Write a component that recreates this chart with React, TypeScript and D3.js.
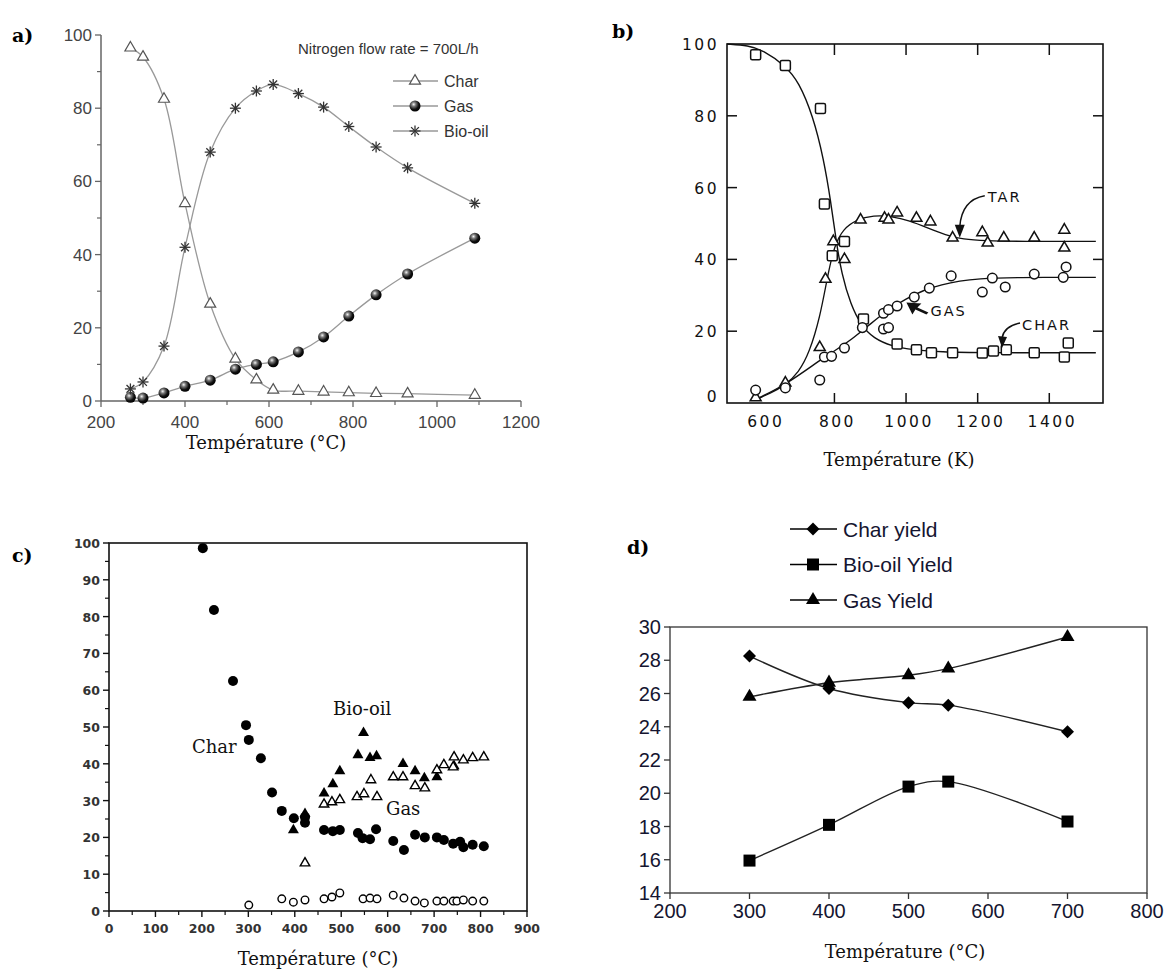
import React from "react";
import * as d3 from "d3";

// ---------------- Panel a ----------------
const aTemps = [270, 300, 350, 400, 460, 520, 570, 610, 670, 730, 790, 855, 930, 1090];
const aChar = [96.5, 94, 82.5, 54, 26.5, 11.5, 5.8, 3, 2.7, 2.5, 2.3, 2.1, 2, 1.6];
const aGas = [1, 0.8, 2.2, 4, 5.7, 8.7, 10, 10.7, 13.4, 17.5, 23.2, 29, 34.7, 44.5];
const aBioOil = [3.3, 5.2, 15, 42, 68, 80, 84.7, 86.5, 84, 80.3, 75, 69.4, 63.7, 54];
const aXTicks = [200, 400, 600, 800, 1000, 1200];
const aXMinor = [300, 500, 700, 900, 1100];
const aYTicks = [0, 20, 40, 60, 80, 100];
const aYMinor = [10, 30, 50, 70, 90];
const aLegend = ["Char", "Gas", "Bio-oil"];

// ---------------- Panel b ----------------
const bCharK = [580, 663, 761, 772, 794, 828, 881, 975, 1029, 1071, 1130, 1213, 1244, 1280, 1358, 1442, 1453];
const bCharY = [97, 94, 82, 55.4, 41, 45, 23.4, 16.4, 14.8, 14, 14, 13.9, 14.5, 14.8, 14, 12.8, 16.7];
const bTarK = [580, 663, 759, 775, 797, 828, 873, 940, 951, 975, 1029, 1068, 1130, 1213, 1228, 1273, 1358, 1442, 1442];
const bTarY = [1.5, 5.6, 15.5, 34.5, 45, 40, 51, 51.5, 51, 53, 51.5, 50.5, 46, 47.5, 44.6, 46, 46, 48.2, 43.2];
const bGasK = [580, 663, 759, 772, 792, 828, 878, 937, 951, 937, 951, 975, 1023, 1065, 1126, 1213, 1241, 1277, 1358, 1439, 1447];
const bGasY = [3.6, 4.2, 6.4, 12.8, 13, 15.3, 21, 20.6, 21, 25, 26, 27, 29.5, 32, 35.4, 30.9, 34.8, 32.3, 35.9, 35, 37.9];
const bCharFitK = [500, 560, 600, 663, 700, 740, 770, 790, 805, 820, 845, 875, 910, 960, 1020, 1100, 1200, 1530];
const bCharFitY = [100, 99.6, 98.3, 94, 89.5, 80, 68, 56, 45, 36, 27.5, 21.5, 18, 15.8, 14.8, 14.2, 14, 14];
const bTarFitK = [580, 620, 663, 700, 730, 760, 780, 800, 825, 860, 910, 960, 1010, 1060, 1110, 1160, 1220, 1320, 1530];
const bTarFitY = [1, 2.6, 5, 8.5, 14, 24, 35, 44, 48.5, 51, 52.3, 52, 50.8, 48.8, 46.8, 45.6, 45.2, 45, 45];
const bGasFitK = [580, 663, 760, 800, 850, 900, 950, 1000, 1050, 1100, 1150, 1200, 1300, 1530];
const bGasFitY = [1, 5, 12, 14.5, 17.8, 22, 26, 29, 31.5, 33, 34, 34.6, 35, 35];
const bXTicks = [600, 800, 1000, 1200, 1400];
const bYTicks = [0, 20, 40, 60, 80, 100];

// ---------------- Panel c ----------------
const cCharT = [202, 226, 267, 295, 301, 327, 351, 372, 398, 422, 422, 463, 482, 497, 536, 546, 562, 575, 612, 635, 659, 680, 706, 721, 741, 756, 763, 783, 807];
const cCharY = [98.6, 81.8, 62.5, 50.5, 46.5, 41.5, 32.2, 27.2, 25.2, 25.5, 24, 22, 21.7, 22, 21.2, 19.8, 19.5, 22.2, 19, 16.6, 20.7, 20, 20, 19.3, 18.3, 18.8, 17.3, 18, 17.6];
const cOilT = [397, 422, 463, 482, 497, 536, 548, 562, 576, 633, 659, 679, 706, 743];
const cOilY = [22, 26.4, 32, 34.5, 38, 42.4, 48.4, 41.6, 42.1, 40, 38, 36.1, 36.4, 39.4];
const cGasT = [422, 463, 480, 497, 534, 549, 564, 577, 612, 633, 659, 680, 706, 721, 741, 743, 763, 783, 807];
const cGasY = [13, 29, 29.6, 30.2, 31, 31.8, 35.6, 31, 36.4, 36.4, 34, 33.4, 38.3, 39.7, 39.1, 41.8, 41, 41.6, 41.8];
const cOpenT = [301, 372, 397, 422, 463, 480, 497, 547, 562, 577, 612, 635, 659, 679, 706, 721, 741, 749, 763, 783, 807];
const cOpenY = [1.6, 3.3, 2.4, 3, 3.3, 3.8, 4.9, 3.3, 3.5, 3.3, 4.3, 3.5, 2.7, 2.2, 2.7, 2.7, 2.7, 2.7, 3, 2.7, 2.7];
const cXTicks = [0, 100, 200, 300, 400, 500, 600, 700, 800, 900];
const cYTicks = [0, 10, 20, 30, 40, 50, 60, 70, 80, 90, 100];

// ---------------- Panel d ----------------
const dTemps = [300, 400, 500, 550, 700];
const dChar = [28.25, 26.3, 25.45, 25.3, 23.7];
const dBioOil = [15.95, 18.1, 20.4, 20.7, 18.3];
const dGas = [25.8, 26.65, 27.1, 27.5, 29.4];
const dXTicks = [200, 300, 400, 500, 600, 700, 800];
const dYTicks = [14, 16, 18, 20, 22, 24, 26, 28, 30];
const dLegend = ["Char yield", "Bio-oil Yield", "Gas Yield"];

const SERIF = "'DejaVu Serif', serif";
const SANS = "'Liberation Sans', Arial, sans-serif";
const WIDE = "'DejaVu Sans', sans-serif";

function triPath(x: number, y: number, s: number) {
  const h = s * 0.866;
  return `M${x},${y - (h * 2) / 3} L${x + s / 2},${y + h / 3} L${x - s / 2},${y + h / 3} Z`;
}
function diamondPath(x: number, y: number, s: number) {
  return `M${x},${y - s} L${x + s},${y} L${x},${y + s} L${x - s},${y} Z`;
}
function Star({ x, y, r, color }: { x: number; y: number; r: number; color: string }) {
  const angles = [0, 45, 90, 135];
  return (
    <g stroke={color} strokeWidth={1.3}>
      {angles.map((a) => {
        const rad = (a * Math.PI) / 180;
        return (
          <line key={a} x1={x - r * Math.cos(rad)} y1={y - r * Math.sin(rad)} x2={x + r * Math.cos(rad)} y2={y + r * Math.sin(rad)} />
        );
      })}
    </g>
  );
}

function PanelA() {
  const x = d3.scaleLinear().domain([200, 1200]).range([101, 521]);
  const y = d3.scaleLinear().domain([0, 100]).range([401, 35]);
  const mk = (vals: number[]) =>
    d3
      .line<number>()
      .x((_, i) => x(aTemps[i]))
      .y((v) => y(v))
      .curve(d3.curveCatmullRom.alpha(0.5))(vals) || "";
  const axisColor = "#666";
  const lineColor = "#999";
  return (
    <g>
      <text x={12} y={42} fontFamily={SERIF} fontWeight="bold" fontSize={19}>a)</text>
      <line x1={x(200)} x2={x(1200)} y1={y(0)} y2={y(0)} stroke={axisColor} strokeWidth={1.5} />
      <line x1={x(200)} x2={x(200)} y1={y(0)} y2={y(100)} stroke={axisColor} strokeWidth={1.5} />
      {aXTicks.map((t) => (
        <g key={t}>
          <line x1={x(t)} x2={x(t)} y1={y(0)} y2={y(0) + 6} stroke={axisColor} strokeWidth={1.3} />
          <text x={x(t)} y={428} textAnchor="middle" fontFamily={SANS} fontSize={17} fill="#444">{t}</text>
        </g>
      ))}
      {aXMinor.map((t) => (
        <line key={t} x1={x(t)} x2={x(t)} y1={y(0)} y2={y(0) + 4} stroke={axisColor} strokeWidth={1.2} />
      ))}
      {aYTicks.map((t) => (
        <g key={t}>
          <line x1={x(200) - 6} x2={x(200)} y1={y(t)} y2={y(t)} stroke={axisColor} strokeWidth={1.3} />
          <text x={x(200) - 9} y={y(t) + 6} textAnchor="end" fontFamily={SANS} fontSize={17} fill="#444">{t}</text>
        </g>
      ))}
      {aYMinor.map((t) => (
        <line key={t} x1={x(200) - 4} x2={x(200)} y1={y(t)} y2={y(t)} stroke={axisColor} strokeWidth={1.2} />
      ))}
      <path d={mk(aChar)} fill="none" stroke={lineColor} strokeWidth={1.3} />
      <path d={mk(aGas)} fill="none" stroke={lineColor} strokeWidth={1.3} />
      <path d={mk(aBioOil)} fill="none" stroke={lineColor} strokeWidth={1.3} />
      {aChar.map((v, i) => (
        <path key={"c" + i} d={triPath(x(aTemps[i]), y(v), 11)} fill="white" stroke="#555" strokeWidth={1.2} />
      ))}
      {aGas.map((v, i) => (
        <circle key={"g" + i} cx={x(aTemps[i])} cy={y(v)} r={5.5} fill="url(#sphere)" />
      ))}
      {aBioOil.map((v, i) => (
        <Star key={"b" + i} x={x(aTemps[i])} y={y(v)} r={5.5} color="#333" />
      ))}
      <text x={298} y={54} fontFamily={SANS} fontSize={15} fill="#333">Nitrogen flow rate = 700L/h</text>
      {aLegend.map((name, i) => {
        const cy = 81 + i * 25;
        return (
          <g key={name}>
            <line x1={393} x2={438} y1={cy} y2={cy} stroke={lineColor} strokeWidth={1.3} />
            {i === 0 && <path d={triPath(415, cy, 11)} fill="white" stroke="#555" strokeWidth={1.2} />}
            {i === 1 && <circle cx={415} cy={cy} r={5.5} fill="url(#sphere)" />}
            {i === 2 && <Star x={415} y={cy} r={5.5} color="#333" />}
            <text x={444} y={cy + 6} fontFamily={SANS} fontSize={16} fill="#333">{name}</text>
          </g>
        );
      })}
      <text x={266} y={449} textAnchor="middle" fontFamily={SERIF} fontSize={18} fill="#111">Température (°C)</text>
    </g>
  );
}

function PanelB() {
  const x = d3.scaleLinear().domain([500, 1550]).range([727, 1103]);
  const y = d3.scaleLinear().domain([0, 100]).range([403, 44]);
  const mk = (ks: number[], vs: number[]) =>
    d3
      .line<number>()
      .x((_, i) => x(ks[i]))
      .y((v) => y(v))
      .curve(d3.curveBasis)(vs) || "";
  const tarTip = { x: x(1150), y: y(46) };
  const gasTip = { x: x(1001), y: y(28) };
  const charTip = { x: x(1268), y: y(15.3) };
  return (
    <g>
      <text x={612} y={38} fontFamily={SERIF} fontWeight="bold" fontSize={19}>b)</text>
      <rect x={727} y={44} width={1103 - 727} height={403 - 44} fill="none" stroke="#111" strokeWidth={1.6} />
      {bYTicks.filter((t) => t > 0 && t < 100).map((t) => (
        <g key={t}>
          <line x1={727} x2={737} y1={y(t)} y2={y(t)} stroke="#111" strokeWidth={1.5} />
          <line x1={1093} x2={1103} y1={y(t)} y2={y(t)} stroke="#111" strokeWidth={1.5} />
        </g>
      ))}
      {bYTicks.map((t) => (
        <text key={t} x={719} y={t === 0 ? y(t) - 1 : y(t) + 6} textAnchor="end" fontFamily={WIDE} fontSize={15.5} letterSpacing={2.5} fill="#111">{t}</text>
      ))}
      {bXTicks.filter((t) => t > 600).map((t) => (
        <g key={t}>
          <line x1={x(t)} x2={x(t)} y1={44} y2={55} stroke="#111" strokeWidth={1.5} />
          <line x1={x(t)} x2={x(t)} y1={393} y2={403} stroke="#111" strokeWidth={1.5} />
        </g>
      ))}
      {bXTicks.map((t) => (
        <text key={t} x={x(t) + 3} y={427} textAnchor="middle" fontFamily={WIDE} fontSize={15.5} letterSpacing={2.5} fill="#111">{t}</text>
      ))}
      <path d={mk(bCharFitK, bCharFitY)} fill="none" stroke="#111" strokeWidth={1.4} />
      <path d={mk(bTarFitK, bTarFitY)} fill="none" stroke="#111" strokeWidth={1.3} />
      <path d={mk(bGasFitK, bGasFitY)} fill="none" stroke="#111" strokeWidth={1.4} />
      {bCharY.map((v, i) => (
        <rect key={"s" + i} x={x(bCharK[i]) - 5} y={y(v) - 5} width={10} height={10} rx={1.5} fill="white" stroke="#111" strokeWidth={1.5} />
      ))}
      {bTarY.map((v, i) => (
        <path key={"t" + i} d={triPath(x(bTarK[i]), y(v), 11)} fill="white" stroke="#111" strokeWidth={1.5} />
      ))}
      {bGasY.map((v, i) => (
        <circle key={"o" + i} cx={x(bGasK[i])} cy={y(v)} r={4.8} fill="white" stroke="#111" strokeWidth={1.5} />
      ))}
      {/* annotations */}
      <text x={tarTip.x + 28} y={tarTip.y - 36} fontFamily={WIDE} fontSize={14.5} letterSpacing={2} fill="#111">TAR</text>
      <path d={`M${tarTip.x + 25},${tarTip.y - 42} Q${tarTip.x + 2},${tarTip.y - 38} ${tarTip.x},${tarTip.y - 11}`} fill="none" stroke="#111" strokeWidth={1.5} />
      <path d={`M${tarTip.x},${tarTip.y} L${tarTip.x - 5},${tarTip.y - 13} L${tarTip.x + 5},${tarTip.y - 13} Z`} fill="#111" />
      <text x={gasTip.x + 24} y={gasTip.y + 14} fontFamily={WIDE} fontSize={14.5} letterSpacing={2} fill="#111">GAS</text>
      <path d={`M${gasTip.x},${gasTip.y} L${gasTip.x + 15},${gasTip.y + 1} L${gasTip.x + 11},${gasTip.y + 5} L${gasTip.x + 22},${gasTip.y + 10} L${gasTip.x + 20},${gasTip.y + 12} L${gasTip.x + 9},${gasTip.y + 7} L${gasTip.x + 6},${gasTip.y + 12} Z`} fill="#111" />
      <text x={charTip.x + 20} y={charTip.y - 18} fontFamily={WIDE} fontSize={14.5} letterSpacing={2} fill="#111">CHAR</text>
      <path d={`M${charTip.x + 18},${charTip.y - 25} Q${charTip.x + 2},${charTip.y - 22} ${charTip.x},${charTip.y - 10}`} fill="none" stroke="#111" strokeWidth={1.5} />
      <path d={`M${charTip.x},${charTip.y} L${charTip.x - 4},${charTip.y - 12} L${charTip.x + 5},${charTip.y - 11} Z`} fill="#111" />
      <text x={899} y={466} textAnchor="middle" fontFamily={SERIF} fontSize={18} fill="#111">Température (K)</text>
    </g>
  );
}

function PanelC() {
  const x = d3.scaleLinear().domain([0, 900]).range([109, 527]);
  const y = d3.scaleLinear().domain([0, 100]).range([911, 543]);
  const minorX = d3.range(50, 900, 100);
  const minorY = d3.range(5, 100, 10);
  return (
    <g>
      <text x={12} y={562} fontFamily={SERIF} fontWeight="bold" fontSize={19}>c)</text>
      <rect x={109} y={543} width={527 - 109} height={911 - 543} fill="none" stroke="#111" strokeWidth={1.6} />
      {cYTicks.map((t) => (
        <g key={t}>
          <line x1={103} x2={109} y1={y(t)} y2={y(t)} stroke="#111" strokeWidth={1.4} />
          <text x={100} y={y(t) + 5} textAnchor="end" fontFamily={WIDE} fontWeight="bold" fontSize={12.5} fill="#333">{t}</text>
        </g>
      ))}
      {minorY.map((t) => (
        <line key={t} x1={105} x2={109} y1={y(t)} y2={y(t)} stroke="#111" strokeWidth={1.2} />
      ))}
      {cXTicks.map((t) => (
        <g key={t}>
          <line x1={x(t)} x2={x(t)} y1={911} y2={917} stroke="#111" strokeWidth={1.4} />
          <text x={x(t)} y={933} textAnchor="middle" fontFamily={WIDE} fontWeight="bold" fontSize={12.5} fill="#333">{t}</text>
        </g>
      ))}
      {minorX.map((t) => (
        <line key={t} x1={x(t)} x2={x(t)} y1={911} y2={915} stroke="#111" strokeWidth={1.2} />
      ))}
      {cCharY.map((v, i) => (
        <circle key={"c" + i} cx={x(cCharT[i])} cy={y(v)} r={5} fill="#000" />
      ))}
      {cOilY.map((v, i) => (
        <path key={"o" + i} d={triPath(x(cOilT[i]), y(v), 11)} fill="#000" />
      ))}
      {cGasY.map((v, i) => (
        <path key={"g" + i} d={triPath(x(cGasT[i]), y(v), 9.5)} fill="white" stroke="#000" strokeWidth={1.4} />
      ))}
      {cOpenY.map((v, i) => (
        <circle key={"p" + i} cx={x(cOpenT[i])} cy={y(v)} r={3.8} fill="white" stroke="#000" strokeWidth={1.4} />
      ))}
      <text x={192} y={753} fontFamily={SERIF} fontSize={18} fill="#111">Char</text>
      <text x={333} y={715} fontFamily={SERIF} fontSize={18} fill="#111">Bio-oil</text>
      <text x={386} y={815} fontFamily={SERIF} fontSize={18} fill="#111">Gas</text>
      <text x={318} y={965} textAnchor="middle" fontFamily={SERIF} fontSize={18} fill="#111">Température (°C)</text>
    </g>
  );
}

function PanelD() {
  const x = d3.scaleLinear().domain([200, 800]).range([670, 1147]);
  const y = d3.scaleLinear().domain([14, 30]).range([893, 627]);
  const mk = (vals: number[]) =>
    d3
      .line<number>()
      .x((_, i) => x(dTemps[i]))
      .y((v) => y(v))
      .curve(d3.curveCatmullRom.alpha(0.5))(vals) || "";
  const sq = (cx: number, cy: number, key: string) => (
    <rect key={key} x={cx - 6} y={cy - 6} width={12} height={12} fill="#000" />
  );
  return (
    <g>
      <text x={627} y={554} fontFamily={SERIF} fontWeight="bold" fontSize={19}>d)</text>
      {dLegend.map((name, i) => {
        const cy = 529 + i * 35.5;
        return (
          <g key={name}>
            <line x1={790} x2={837} y1={cy} y2={cy} stroke="#000" strokeWidth={1.4} />
            {i === 0 && <path d={diamondPath(813, cy, 6.5)} fill="#000" />}
            {i === 1 && sq(813, cy, "l")}
            {i === 2 && <path d={triPath(813, cy, 14)} fill="#000" />}
            <text x={843} y={cy + 7.5} fontFamily={SANS} fontSize={21} fill="#151530">{name}</text>
          </g>
        );
      })}
      <rect x={670} y={627} width={1147 - 670} height={893 - 627} fill="none" stroke="#333" strokeWidth={1.3} />
      {dYTicks.map((t) => (
        <g key={t}>
          <line x1={664} x2={670} y1={y(t)} y2={y(t)} stroke="#333" strokeWidth={1.3} />
          <text x={661} y={y(t) + 7} textAnchor="end" fontFamily={SANS} fontSize={20} fill="#151530">{t}</text>
        </g>
      ))}
      {dXTicks.map((t) => (
        <g key={t}>
          <line x1={x(t)} x2={x(t)} y1={893} y2={899} stroke="#333" strokeWidth={1.3} />
          <text x={x(t)} y={918} textAnchor="middle" fontFamily={SANS} fontSize={20} fill="#151530">{t}</text>
        </g>
      ))}
      <path d={mk(dChar)} fill="none" stroke="#222" strokeWidth={1.4} />
      <path d={mk(dBioOil)} fill="none" stroke="#222" strokeWidth={1.4} />
      <path d={mk(dGas)} fill="none" stroke="#222" strokeWidth={1.4} />
      {dChar.map((v, i) => (
        <path key={"c" + i} d={diamondPath(x(dTemps[i]), y(v), 6.5)} fill="#000" />
      ))}
      {dBioOil.map((v, i) => sq(x(dTemps[i]), y(v), "b" + i))}
      {dGas.map((v, i) => (
        <path key={"g" + i} d={triPath(x(dTemps[i]), y(v), 14)} fill="#000" />
      ))}
      <text x={905} y={958} textAnchor="middle" fontFamily={SERIF} fontSize={18} fill="#111">Température (°C)</text>
    </g>
  );
}

export default function App() {
  return (
    <svg width={1168} height={970} style={{ position: "absolute", left: 0, top: 0, background: "#fff" }}>
      <defs>
        <radialGradient id="sphere" cx="38%" cy="35%" r="65%">
          <stop offset="0%" stopColor="#f4f4f4" />
          <stop offset="30%" stopColor="#777" />
          <stop offset="70%" stopColor="#111" />
          <stop offset="100%" stopColor="#000" />
        </radialGradient>
      </defs>
      <rect width={1168} height={970} fill="#fff" />
      <PanelA />
      <PanelB />
      <PanelC />
      <PanelD />
    </svg>
  );
}
